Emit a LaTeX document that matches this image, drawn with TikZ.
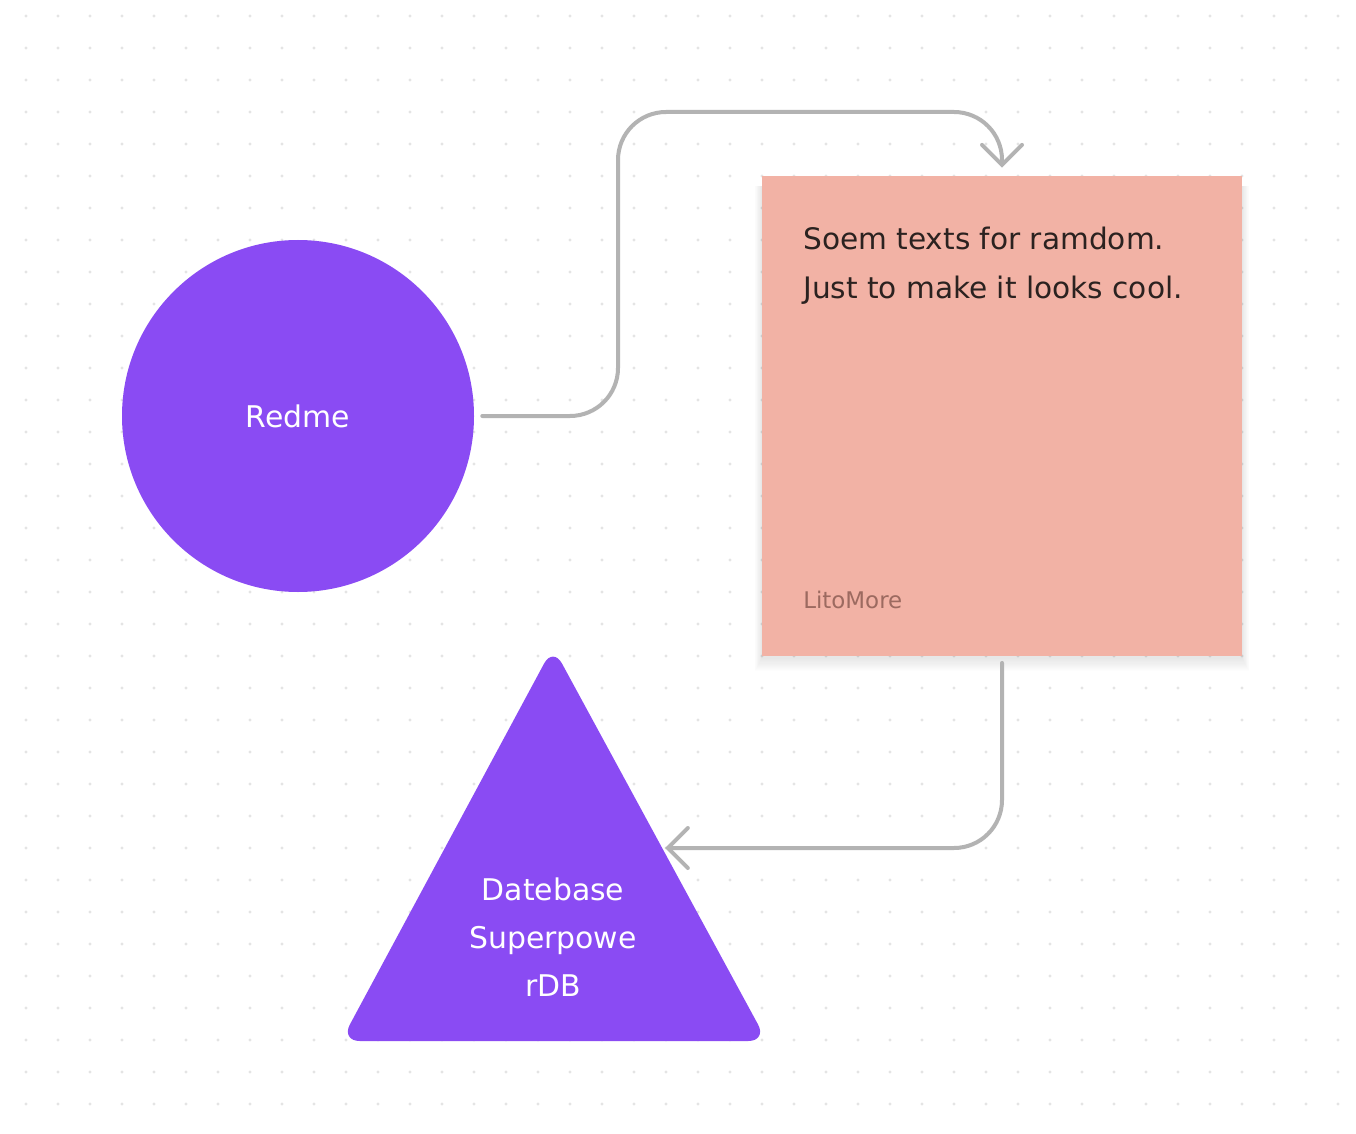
\documentclass[tikz,border=0pt]{standalone}
\usepackage{fontspec}
\setmainfont{DejaVu Sans}
\usetikzlibrary{arrows.meta}
\definecolor{purp}{HTML}{8A4BF3}
\definecolor{notebg}{HTML}{F2B2A5}
\definecolor{conngrey}{HTML}{B3B3B3}
\definecolor{dotgrey}{HTML}{E4E4E4}
\definecolor{notetext}{HTML}{2B2220}
\definecolor{authortext}{HTML}{9C6A60}
\begin{document}
\begin{tikzpicture}[x=0.75pt,y=-0.75pt,
  shapefill/.style={fill=purp,draw=none},
  whitelabel/.style={text=white,font=\fontsize{22.4}{36}\selectfont,align=center,inner sep=0pt},
  conn/.style={draw=conngrey,line width=3pt,rounded corners=36pt,line cap=round,
    -{Straight Barb[length=15pt,width=30pt,line width=3pt,line cap=round]}},
  notetxt/.style={anchor=base west,inner sep=0pt,text=notetext,font=\fontsize{22.2}{30}\selectfont},
]
\useasboundingbox (0,0) rectangle (1356,1134);
\fill[white] (0,0) rectangle (1356,1134);
% dot grid
\foreach \i in {0,...,41}{
  \foreach \j in {0,...,34}{
    \fill[dotgrey] (26+32*\i,16+32*\j) circle[radius=1.6];
  }
}
% circle
\node[circle,shapefill,minimum size=264pt,inner sep=0pt] (redme) at (298,416) {};
\node[whitelabel] (redmelabel) at (298,416) {Redme};
% note shadow
\foreach \k in {1,...,12}{
  \fill[black,opacity=0.009] (762-0.6*\k,186) rectangle (1242+0.6*\k,658+1.1*\k);
}
\node[rectangle,fill=notebg,draw=none,minimum width=360pt,minimum height=360pt,inner sep=0pt] (note) at (1002,416) {};
\node[notetxt] (t1) at (803,250) {Soem texts for ramdom.};
\node[notetxt] (t2) at (803,298) {Just to make it looks cool.};
\node[anchor=base west,inner sep=0pt,text=authortext,font=\fontsize{17.2}{24}\selectfont] (author) at (803,608) {LitoMore};
% triangle
\fill[purp,rounded corners=14pt] (553,647) -- (767,1041) -- (341,1041) -- cycle;
\node[whitelabel] (db) at (553,937) {Datebase\\Superpowe\\rDB};
\coordinate (dbin) at (665,848);
\coordinate (c1) at (618,112);
% connectors
\draw[conn,shorten <=6pt,shorten >=6pt] (redme.east) -| (c1) -| (note.north);
\draw[conn,shorten <=5pt] (note.south) |- (dbin);
\end{tikzpicture}
\end{document}
